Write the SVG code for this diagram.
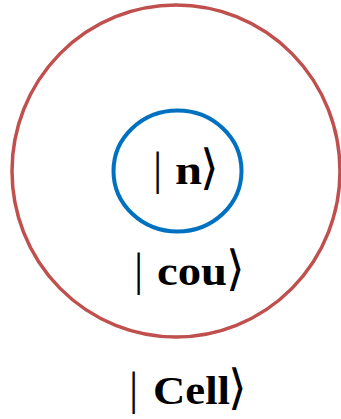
<svg xmlns="http://www.w3.org/2000/svg" width="341" height="419" viewBox="0 0 341 419">
<style>
.bg{fill:#ffffff}
.outer{fill:none;stroke:#C0504D;stroke-width:3.5}
.inner{fill:none;stroke:#0070C0;stroke-width:4}
.t{font-family:"Liberation Serif","DejaVu Serif",serif;font-size:40px;fill:#000}
.b{font-weight:bold}
.v{font-size:46px;font-weight:normal}
.k{font-family:"DejaVu Serif","Liberation Serif",serif;font-size:48px;font-weight:normal}
</style>
<rect class="bg" x="0" y="0" width="341" height="419"/>
<g id="cell">
  <ellipse class="outer" cx="176" cy="171" rx="164" ry="166"/>
  <text class="t" y="404"><tspan class="v" x="129">|</tspan><tspan class="b" x="153" textLength="77" lengthAdjust="spacingAndGlyphs">Cell</tspan><tspan class="k" x="228">⟩</tspan></text>
</g>
<g id="cou">
  <text class="t" y="285"><tspan class="v" x="134">|</tspan><tspan class="b" x="157" textLength="70" lengthAdjust="spacingAndGlyphs">cou</tspan><tspan class="k" x="226">⟩</tspan></text>
</g>
<g id="n">
  <ellipse class="inner" cx="177.5" cy="171" rx="64" ry="60.5"/>
  <text class="t" y="184"><tspan class="v" x="153">|</tspan><tspan class="b" x="175" textLength="27" lengthAdjust="spacingAndGlyphs">n</tspan><tspan class="k" x="200">⟩</tspan></text>
</g>
<g id="connectors"/>
</svg>
